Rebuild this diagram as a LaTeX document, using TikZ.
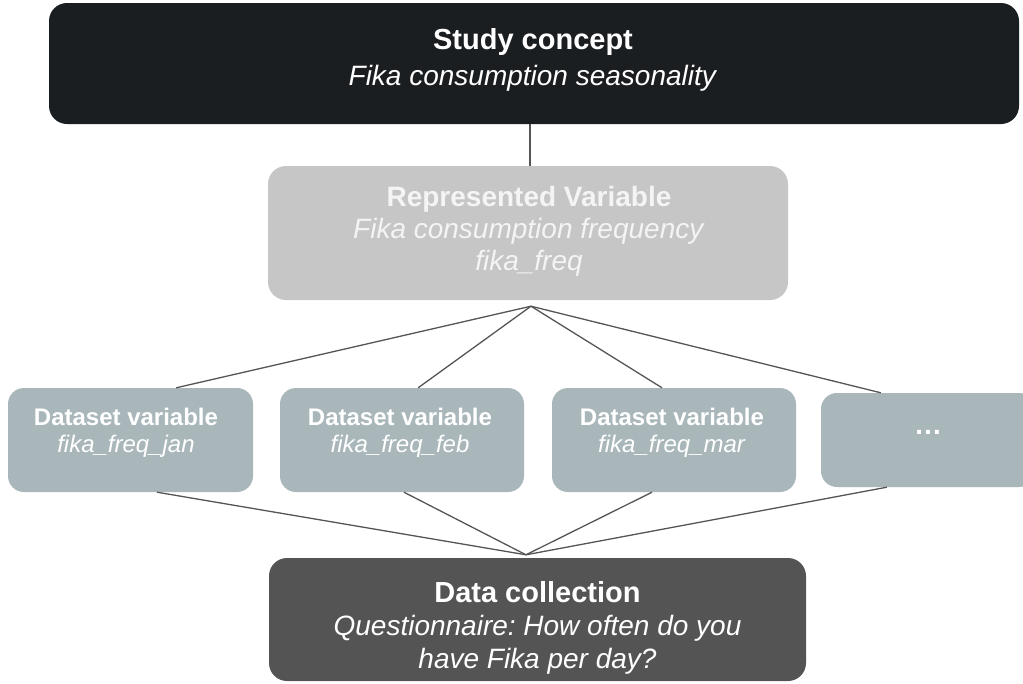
\documentclass[tikz,border=0pt]{standalone}
\usepackage{fontspec}
\setmainfont{Liberation Sans}
\usetikzlibrary{calc}
\definecolor{topc}{HTML}{1B1E21}
\definecolor{rvc}{HTML}{C6C6C6}
\definecolor{rvtext}{HTML}{F4F4F4}
\definecolor{dsc}{HTML}{A9B7BB}
\definecolor{dcc}{HTML}{545454}
\definecolor{linec}{HTML}{555555}
\frenchspacing
\begin{document}
\begin{tikzpicture}[x=1pt,y=-1pt,
  boxshape/.style={rectangle, rounded corners=18pt, inner sep=0pt, draw=none},
  txt/.style={inner sep=0pt, align=center, text=white},
  conn/.style={draw=linec, line width=1.3pt}]
\useasboundingbox (0,0) rectangle (1023,683);
\clip (0,0) rectangle (1023,683);

% boxes
\node[boxshape, fill=topc, minimum width=970pt, minimum height=121pt] (top) at (534,63.5) {};
\node[boxshape, fill=rvc, minimum width=520pt, minimum height=134pt] (rv) at (528,233) {};
\node[boxshape, fill=dsc, rounded corners=16pt, minimum width=245pt, minimum height=104pt] (jan) at (130.5,440) {};
\node[boxshape, fill=dsc, rounded corners=16pt, minimum width=244pt, minimum height=104pt] (feb) at (402,440) {};
\node[boxshape, fill=dsc, rounded corners=16pt, minimum width=244pt, minimum height=104pt] (mar) at (674,440) {};
\node[boxshape, fill=dsc, rounded corners=16pt, minimum width=214pt, minimum height=94pt] (more) at (928,440) {};
\node[boxshape, fill=dcc, minimum width=537pt, minimum height=123pt] (dc) at (537.5,619.5) {};

% texts
\node[txt, font=\fontsize{28}{36}\selectfont] (topT) at (533,59.8)
  {{\fontsize{29}{36}\selectfont\bfseries Study concept}\\\textit{Fika consumption seasonality}};
\node[txt, text=rvtext, font=\fontsize{28}{32}\selectfont] (rvT) at (529,230.8)
  {\textbf{Represented Variable}\\\textit{Fika consumption frequency}\\\textit{fika\_freq}};
\node[txt, font=\fontsize{24}{27}\selectfont] (janT) at (126,432.3)
  {\textbf{Dataset variable}\\\textit{fika\_freq\_jan}};
\node[txt, font=\fontsize{24}{27}\selectfont] (febT) at (400,432.3)
  {\textbf{Dataset variable}\\\textit{fika\_freq\_feb}};
\node[txt, font=\fontsize{24}{27}\selectfont] (marT) at (672,432.3)
  {\textbf{Dataset variable}\\\textit{fika\_freq\_mar}};
\node[txt, font=\fontsize{28}{32}\selectfont] (moreT) at (928,432.5)
  {\textbf{…}};
\node[txt, font=\fontsize{28}{33}\selectfont] (dcT) at (537.5,627.5)
  {{\fontsize{29}{33}\selectfont\bfseries Data collection}\\\textit{Questionnaire: How often do you}\\\textit{have Fika per day?}};

% connectors
\coordinate (up) at ([xshift=3pt,yshift=-6pt]rv.south);
\coordinate (low) at ([xshift=-11.5pt,yshift=3pt]dc.north);
\draw[conn] ([xshift=2pt]rv.north) -- ([xshift=2pt]rv.north |- top.south);
\draw[conn] (up) -- ($(jan.north west)!0.686!(jan.north east)$);
\draw[conn] (up) -- ($(feb.north west)!0.566!(feb.north east)$);
\draw[conn] (up) -- ($(mar.north west)!0.451!(mar.north east)$);
\draw[conn] (up) -- ($(more.north west)!0.28!(more.north east)$);
\draw[conn] (low) -- ($(jan.south west)!0.608!(jan.south east)$);
\draw[conn] (low) -- ($(feb.south west)!0.508!(feb.south east)$);
\draw[conn] (low) -- ($(mar.south west)!0.41!(mar.south east)$);
\draw[conn] (low) -- ($(more.south west)!0.308!(more.south east)$);
\end{tikzpicture}
\end{document}
